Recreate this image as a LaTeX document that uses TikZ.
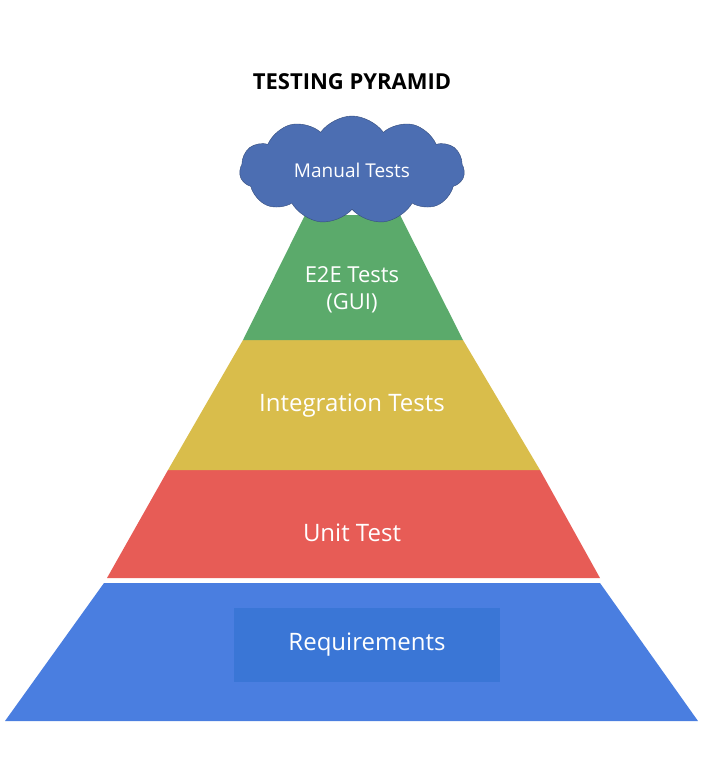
\documentclass[tikz,border=0pt]{standalone}
\usepackage{fontspec}
\setmainfont{Open Sans}
\usetikzlibrary{shapes.symbols}
\definecolor{e2egreen}{HTML}{5BAA6B}
\definecolor{intyellow}{HTML}{D9BD4B}
\definecolor{unitred}{HTML}{E75C56}
\definecolor{reqblue}{HTML}{4A7EE0}
\definecolor{reqbox}{HTML}{3A76D6}
\definecolor{cloudblue}{HTML}{4C6EB2}
\begin{document}
\begin{tikzpicture}[x=1pt,y=-1pt,
  layer/.style={draw=none},
  lbl/.style={text=white,font=\fontsize{24}{28}\selectfont,align=center}]
  \useasboundingbox (0,0) rectangle (720,772);
  \node[font=\fontsize{22}{26}\selectfont\bfseries] (title) at (352,82) {TESTING PYRAMID};
  % layers, bottom to top
  \fill[reqblue] (5,721) -- (698,721) -- (600,583) -- (104,583) -- cycle;
  \fill[unitred] (107,578) -- (600,578) -- (540,470) -- (168,470) -- cycle;
  \fill[intyellow] (168,470) -- (540,470) -- (463,340) -- (243,340) -- cycle;
  \fill[e2egreen] (243,340) -- (463,340) -- (400,215) -- (305,215) -- cycle;
  \node[fill=reqbox,minimum width=266pt,minimum height=74pt,inner sep=0pt] (reqbox) at (367,645) {};
  \node[lbl] (req) at (reqbox) {Requirements};
  \node[lbl] (unit) at (352,533) {Unit Test};
  \node[lbl] (integ) at (352,406) {Integration Tests};
  \node[lbl,font=\fontsize{22}{27}\selectfont] (e2e) at (352,290) {E2E Tests\\(GUI)};
  % cloud on top
  \node[cloud,cloud puffs=11,cloud puff arc=110,aspect=2.3,fill=cloudblue,draw=cloudblue!70!black,
    minimum width=225pt,minimum height=108pt,inner sep=0pt,
    text=white,font=\fontsize{19}{23}\selectfont] (manual) at (352,170) {Manual Tests};
\end{tikzpicture}
\end{document}
